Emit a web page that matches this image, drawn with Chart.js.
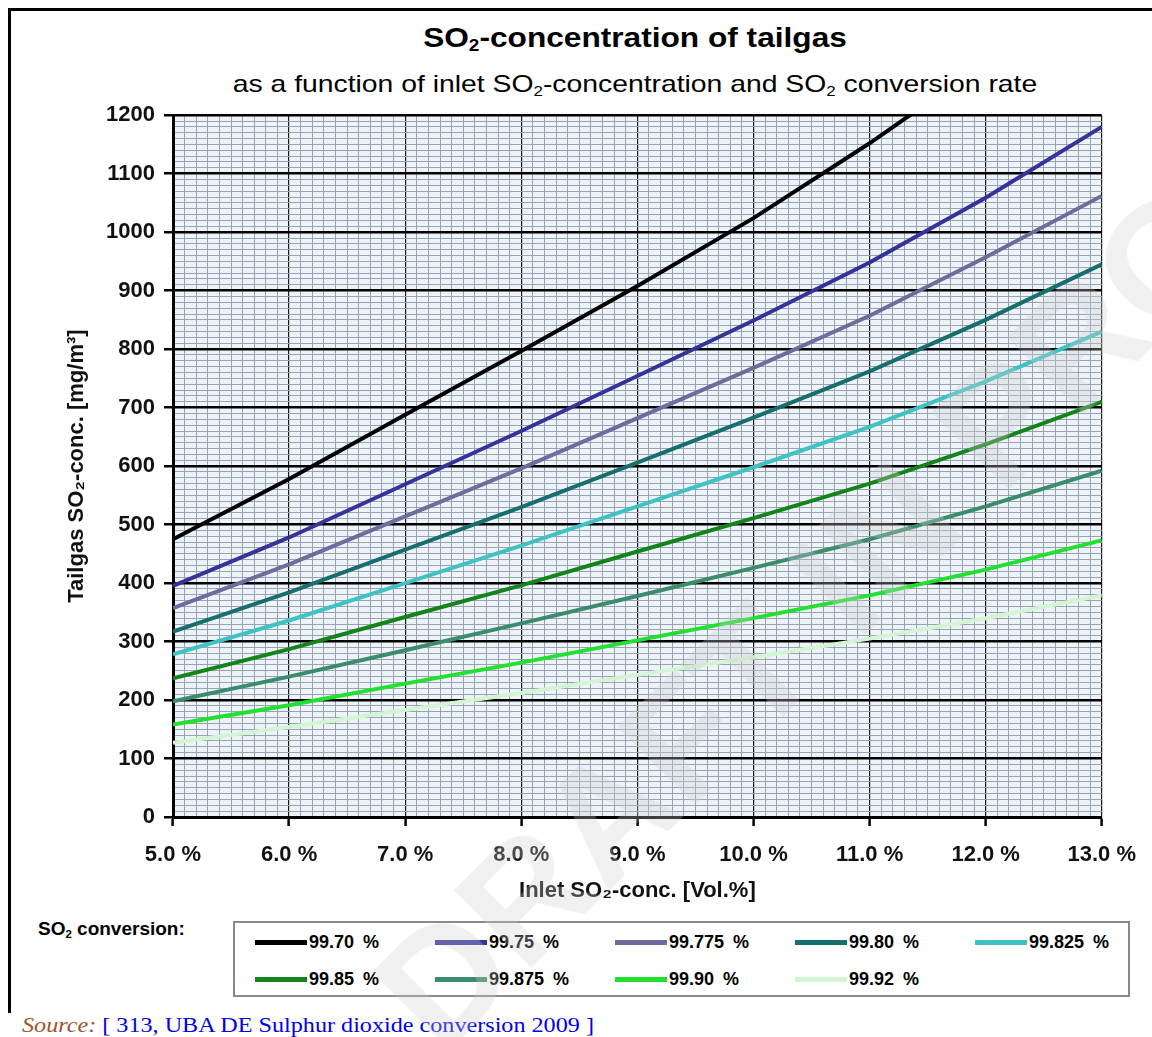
<!DOCTYPE html>
<html>
<head>
<meta charset="utf-8">
<script src="https://cdn.jsdelivr.net/npm/chart.js@4.4.0/dist/chart.umd.min.js"></script>
<style>
body { margin: 0; background: #fff; font-family: "Liberation Sans", Arial, sans-serif; }
#page { position: relative; width: 1152px; height: 1037px; overflow: hidden; }
#frame { position: absolute; left: 8px; top: 8px; width: 1160px; height: 1002px; border-top: 3px solid #000; border-left: 3px solid #000; }
#title { position: absolute; left: 335px; width: 600px; top: 22px; text-align: center; font-weight: bold; font-size: 28px; transform: scaleX(1.13); }
#subtitle { position: absolute; left: 235px; width: 800px; top: 70px; text-align: center; font-size: 24px; transform: scaleX(1.18); }
sub { font-size: 0.6em; vertical-align: -0.25em; line-height: 0; }
#chartBox { position: absolute; left: 0; top: 93px; width: 1152px; height: 817px; }
#convLabel { position: absolute; left: 38px; top: 918px; font-weight: bold; font-size: 19px; }
#legend { position: absolute; left: 233px; top: 921px; width: 893px; height: 72px; border: 2px solid #8a8a8a; }
.item { position: absolute; height: 20px; }
.item .ln { position: absolute; left: 0; top: 8px; width: 52px; height: 5px; }
.item .tx { position: absolute; left: 54px; top: 0; font-weight: bold; font-size: 18px; white-space: nowrap; word-spacing: 4px; }
#source { position: absolute; left: 22px; top: 1013px; font-family: "Liberation Serif", "Times New Roman", serif; font-size: 21px; color: #0000ee; white-space: nowrap; transform: scaleX(1.15); transform-origin: 0 0; }
#source i { color: #a0522d; }
#watermark { position: absolute; left: 460px; top: 915px; font-size: 160px; line-height: 160px; font-weight: bold; color: rgba(205,205,205,0.3); transform: rotate(-45deg); transform-origin: 0 100%; white-space: nowrap; pointer-events: none; }
</style>
</head>
<body>
<div id="page">
  <div id="frame"></div>
  <div id="title">SO<sub>2</sub>-concentration of tailgas</div>
  <div id="subtitle">as a function of inlet SO<sub>2</sub>-concentration and SO<sub>2</sub> conversion rate</div>
  <div id="chartBox"><canvas id="so2Chart"></canvas></div>
  <div id="convLabel">SO<sub>2</sub> conversion:</div>
  <div id="legend"></div>
  <div id="source"><i>Source:</i> [ 313, UBA DE Sulphur dioxide conversion 2009 ]</div>
  <div id="watermark">DRAFT IN PROGRESS</div>
</div>
<script>
// Inlet SO2 concentration [Vol.%]
const inletConc = [5, 6, 7, 8, 9, 10, 11, 12, 13];

// Tailgas SO2 [mg/m3] per conversion rate
const conv9970 = [475, 578, 688, 797, 908, 1024, 1152, 1290, 1440];
const conv9975 = [395, 478, 569, 660, 754, 849, 948, 1059, 1180];
const conv99775 = [357, 432, 514, 596, 682, 768, 857, 957, 1062];
const conv9980 = [317, 384, 457, 530, 606, 683, 762, 850, 945];
const conv99825 = [278, 336, 400, 464, 531, 598, 667, 745, 830];
const conv9985 = [237, 287, 342, 396, 454, 511, 570, 637, 710];
const conv99875 = [198, 240, 285, 331, 378, 426, 475, 531, 592];
const conv9990 = [158, 191, 228, 264, 302, 340, 379, 423, 473];
const conv9992 = [127, 154, 183, 212, 243, 273, 305, 340, 379];

const seriesLabels = ['99.70 %', '99.75 %', '99.775 %', '99.80 %', '99.825 %', '99.85 %', '99.875 %', '99.90 %', '99.92 %'];
const seriesColors = ['#000000', '#34339a', '#6e6c9c', '#176e70', '#3fc2c4', '#13841a', '#3a8c6c', '#22e030', '#d2f5d2'];
const seriesValues = [conv9970, conv9975, conv99775, conv9980, conv99825, conv9985, conv99875, conv9990, conv9992];

// tick labels
const xTickLabels = ['5.0 %', '6.0 %', '7.0 %', '8.0 %', '9.0 %', '10.0 %', '11.0 %', '12.0 %', '13.0 %'];
const yTickLabels = ['0', '100', '200', '300', '400', '500', '600', '700', '800', '900', '1000', '1100', '1200'];

function isWhole(v) {
    return Math.abs(v - Math.round(v)) < 1e-6;
}

const plotBackground = {
    id: 'plotBackground',
    beforeDraw(chart) {
        const a = chart.chartArea;
        const ctx = chart.ctx;
        ctx.save();
        ctx.fillStyle = '#edf3f9';
        ctx.fillRect(a.left, a.top, a.width, a.height);
        ctx.restore();
    }
};

const datasets = seriesValues.map((vals, i) => ({
    label: seriesLabels[i],
    data: vals.map((v, j) => ({ x: inletConc[j], y: v })),
    borderColor: seriesColors[i],
    borderWidth: 4,
    pointRadius: 0,
    tension: 0,
    clip: 0
}));

const ctx = document.getElementById('so2Chart').getContext('2d');
new Chart(ctx, {
    type: 'line',
    data: { datasets: datasets },
    plugins: [plotBackground],
    options: {
        responsive: true,
        maintainAspectRatio: false,
        animation: false,
        layout: { padding: { left: 0, right: 40, top: 8, bottom: 0 } },
        plugins: { legend: { display: false }, tooltip: { enabled: false } },
        scales: {
            x: {
                type: 'linear',
                min: 5,
                max: 13,
                afterFit: scale => { scale.height = 93; },
                border: { display: true, color: '#000', width: 3 },
                grid: {
                    color: c => isWhole(c.tick.value) ? '#1a1a1a' : '#97a4b0',
                    lineWidth: c => isWhole(c.tick.value) ? 1.2 : 1,
                    tickLength: 9,
                    tickColor: c => isWhole(c.tick.value) ? '#000' : 'rgba(0,0,0,0)',
                    tickWidth: 2.5
                },
                ticks: {
                    stepSize: 0.1,
                    autoSkip: false,
                    maxRotation: 0,
                    padding: 16,
                    color: '#111',
                    font: { family: '"Liberation Sans", Arial, sans-serif', size: 22, weight: 'bold' },
                    callback: v => isWhole(v) ? xTickLabels[Math.round(v) - 5] : ''
                },
                title: {
                    display: true,
                    text: 'Inlet SO₂-conc. [Vol.%]',
                    color: '#111',
                    padding: { top: 0, bottom: 6 },
                    font: { family: '"Liberation Sans", Arial, sans-serif', size: 22, weight: 'bold' }
                }
            },
            y: {
                min: 0,
                max: 1200,
                afterFit: scale => { scale.width = 173; },
                border: { display: true, color: '#000', width: 3 },
                grid: {
                    color: c => c.tick.value % 100 === 0 ? '#000' : '#97a4b0',
                    lineWidth: c => c.tick.value % 100 === 0 ? 2.5 : 1,
                    tickLength: 9,
                    tickColor: c => c.tick.value % 100 === 0 ? '#000' : 'rgba(0,0,0,0)',
                    tickWidth: 2.5
                },
                ticks: {
                    stepSize: 10,
                    autoSkip: false,
                    padding: 9,
                    color: '#111',
                    font: { family: '"Liberation Sans", Arial, sans-serif', size: 22, weight: 'bold' },
                    callback: v => v % 100 === 0 ? yTickLabels[v / 100] : ''
                },
                title: {
                    display: true,
                    text: 'Tailgas SO₂-conc. [mg/m³]',
                    color: '#111',
                    padding: { top: 64, bottom: 0 },
                    font: { family: '"Liberation Sans", Arial, sans-serif', size: 22, weight: 'bold' }
                }
            }
        }
    }
});

// legend, built from the series arrays (5 columns, Excel style)
const legendBox = document.getElementById('legend');
seriesLabels.forEach((label, i) => {
    const col = i % 5, row = Math.floor(i / 5);
    const item = document.createElement('div');
    item.className = 'item';
    item.style.left = (20 + col * 180) + 'px';
    item.style.top = (9 + row * 37) + 'px';
    item.innerHTML = `<div class="ln" style="background:${seriesColors[i]}"></div><div class="tx">${label}</div>`;
    legendBox.appendChild(item);
});
</script>
</body>
</html>
